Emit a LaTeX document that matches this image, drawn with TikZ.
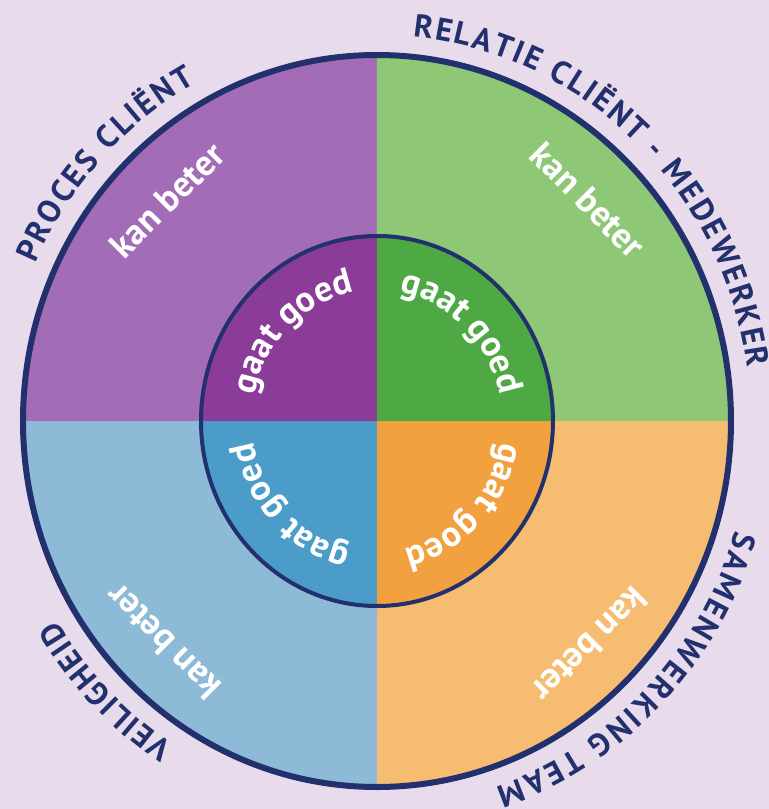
\documentclass[tikz,border=0pt]{standalone}
\usepackage{fontspec}
\setmainfont{PT Sans}
\usepackage{tikz}
\usetikzlibrary{decorations.text}

\definecolor{achtergrond}{HTML}{E8DCEC}
\definecolor{rand}{HTML}{23306E}
\definecolor{paarsbuiten}{HTML}{A36CB6}
\definecolor{paarsbinnen}{HTML}{8B3B98}
\definecolor{groenbuiten}{HTML}{8EC775}
\definecolor{groenbinnen}{HTML}{4EA945}
\definecolor{blauwbuiten}{HTML}{8CBAD7}
\definecolor{blauwbinnen}{HTML}{4B9CC8}
\definecolor{oranjebuiten}{HTML}{F6BD72}
\definecolor{oranjebinnen}{HTML}{F2A140}

\newcommand{\wielfont}{\bfseries\fontsize{18}{18}\selectfont}
\newcommand{\labelfont}{\bfseries\fontsize{16}{16}\selectfont}

\tikzset{
	kanbeter/.style={text=white, font=\wielfont, inner sep=0pt},
	gaatgoed/.style={decorate, decoration={text along path, text align=center, text color=white, text={|\wielfont|#1}}},
	thema/.style={decorate, decoration={text along path, text align=fit to path, text color=rand, text={|\labelfont|#1}}}
}

\begin{document}
\begin{tikzpicture}[x=0.5pt,y=0.5pt]
	\useasboundingbox[fill=achtergrond] (-377,-388) rectangle (392,421);
	\fill[paarsbuiten] (0,0) -- (-354,0) arc[start angle=180, end angle=90, x radius=354, y radius=366] -- cycle;
	\fill[groenbuiten] (0,0) -- (0,366) arc[start angle=90, end angle=0, x radius=354, y radius=366] -- cycle;
	\fill[oranjebuiten] (0,0) -- (354,0) arc[start angle=0, end angle=-90, x radius=354, y radius=366] -- cycle;
	\fill[blauwbuiten] (0,0) -- (0,-366) arc[start angle=270, end angle=180, x radius=354, y radius=366] -- cycle;
	\fill[paarsbinnen] (0,0) -- (-176,0) arc[start angle=180, end angle=90, x radius=176, y radius=185] -- cycle;
	\fill[groenbinnen] (0,0) -- (0,185) arc[start angle=90, end angle=0, x radius=176, y radius=185] -- cycle;
	\fill[oranjebinnen] (0,0) -- (176,0) arc[start angle=0, end angle=-90, x radius=176, y radius=185] -- cycle;
	\fill[blauwbinnen] (0,0) -- (0,-185) arc[start angle=270, end angle=180, x radius=176, y radius=185] -- cycle;
	\draw[rand, line width=3pt] (0,0) ellipse[x radius=354, y radius=366];
	\draw[rand, line width=2pt] (0,0) ellipse[x radius=176, y radius=185];

	\node (kb1) at (-210,221) [kanbeter, rotate=45] {kan beter};
	\node (kb2) at (211,221) [kanbeter, rotate=-45] {kan beter};
	\node (kb3) at (213,-224) [kanbeter, rotate=-135] {kan beter};
	\node (kb4) at (-214,-221) [kanbeter, rotate=135] {kan beter};

	\path[gaatgoed={gaat goed}] (194:125 and 131) arc[start angle=194, end angle=74, x radius=125, y radius=131];
	\path[gaatgoed={gaat goed}] (106:125 and 131) arc[start angle=106, end angle=-14, x radius=125, y radius=131];
	\path[gaatgoed={gaat goed}] (16:125 and 131) arc[start angle=16, end angle=-104, x radius=125, y radius=131];
	\path[gaatgoed={gaat goed}] (284:125 and 131) arc[start angle=284, end angle=164, x radius=125, y radius=131];

	\path[thema={PROCES CLIËNT}] (156:374 and 386) arc[start angle=156, end angle=119, x radius=374, y radius=386];
	\path[thema={RELATIE CLIËNT - MEDEWERKER}] (84.5:374 and 386) arc[start angle=84.5, end angle=8, x radius=374, y radius=386];
	\path[thema={SAMENWERKING TEAM}] (-16.5:374 and 386) arc[start angle=-16.5, end angle=-71.5, x radius=374, y radius=386];
	\path[thema={VEILIGHEID}] (237:374 and 386) arc[start angle=237, end angle=211, x radius=374, y radius=386];
\end{tikzpicture}
\end{document}
